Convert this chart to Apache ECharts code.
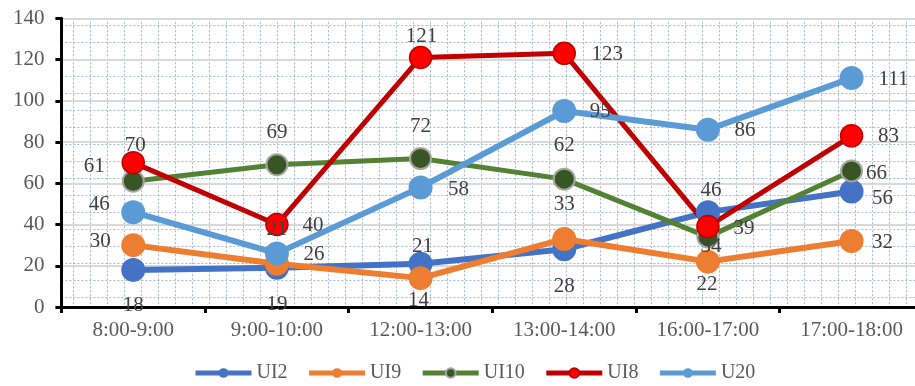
<!DOCTYPE html>
<html>
<head>
<meta charset="utf-8">
<script src="https://cdn.jsdelivr.net/npm/echarts@6/dist/echarts.min.js"></script>
<style>
  html, body { margin: 0; padding: 0; background: #fff; }
  #chart { width: 915px; height: 386px; }
</style>
</head>
<body>
<div id="chart"></div>
<script>
// categories and series values
const categories = ["8:00-9:00", "9:00-10:00", "12:00-13:00", "13:00-14:00", "16:00-17:00", "17:00-18:00"];
const ui2 = [18, 19, 21, 28, 46, 56];
const ui9 = [30, 21, 14, 33, 22, 32];
const ui10 = [61, 69, 72, 62, 34, 66];
const ui8 = [70, 40, 121, 123, 39, 83];
const u20 = [46, 26, 58, 95, 86, 111];
const yMin = 0, yMax = 140, yStep = 20;

// where each data label sits relative to its point (px)
const ui2Offsets = [[0, 36], [0, 37], [2, -17], [0, 37], [3, -22], [31, 7]];
const ui9Offsets = [[-33, -4], [0, -34], [-2, 22], [0, -34], [-1, 23], [31, 1]];
const ui10Offsets = [[-39, -15], [0, -32], [0, -32], [0, -34], [3, 10], [25, 3]];
const ui8Offsets = [[2, -17], [36, 1], [1, -21], [43, 1], [36, 2], [37, 1]];
const u20Offsets = [[-34, -8], [37, 1], [38, 2], [36, 0], [37, 1], [42, 1]];

const FONT = "'Liberation Serif', 'Times New Roman', serif";
// plot runs past the right edge of the picture
const PLOT_W = 862;

function makeSeries(name, values, offsets, lineColor, fill, border, borderW, size, lineW) {
  return {
    name: name,
    type: "line",
    xAxisIndex: 0,
    yAxisIndex: 0,
    data: values.map(function (v, i) {
      return { value: v, label: { offset: offsets[i] } };
    }),
    symbol: "circle",
    symbolSize: size,
    lineStyle: { color: lineColor, width: lineW },
    itemStyle: { color: fill, borderColor: border, borderWidth: borderW },
    label: {
      show: true,
      position: "inside",
      color: "#404040",
      fontFamily: FONT,
      fontSize: 21
    },
    emphasis: { disabled: true },
    animation: false
  };
}

const chart = echarts.init(document.getElementById("chart"));
chart.setOption({
  backgroundColor: "#fff",
  animation: false,
  grid: [
    { left: 61.4, width: PLOT_W, top: 18.3, bottom: 79, outerBoundsMode: "none", containLabel: false },
    // horizontal dotted grid
    { left: 61.4, width: PLOT_W, top: 25, bottom: 89, outerBoundsMode: "none", containLabel: false },
    // vertical dotted grid
    { left: 73.3, width: PLOT_W - 11.9, top: 18.3, bottom: 79, outerBoundsMode: "none", containLabel: false }
  ],
  legend: {
    left: 188,
    top: 358,
    itemWidth: 56,
    itemHeight: 12,
    itemGap: 19,
    lineStyle: { width: 5 },
    textStyle: { color: "#595959", fontFamily: FONT, fontSize: 20 },
    data: ["UI2", "UI9", "UI10", "UI8", "U20"]
  },
  xAxis: [
    {
      type: "category",
      gridIndex: 0,
      data: categories,
      z: 3,
      axisLine: { lineStyle: { color: "#000", width: 3 } },
      axisTick: { show: true, length: 6, lineStyle: { color: "#000", width: 3 } },
      axisLabel: { color: "#595959", fontFamily: FONT, fontSize: 21, margin: 13 },
      splitLine: { show: false }
    },
    { type: "value", gridIndex: 1, show: false, min: 0, max: 1 },
    {
      type: "value",
      gridIndex: 2,
      min: 0,
      max: 50,
      interval: 1,
      z: 0,
      axisLine: { show: false },
      axisTick: { show: false },
      axisLabel: { show: false },
      splitLine: { show: true, lineStyle: { color: "#a9b6d0", width: 1, type: [2, 2] } }
    }
  ],
  yAxis: [
    {
      type: "value",
      gridIndex: 0,
      min: yMin,
      max: yMax,
      interval: yStep,
      z: 3,
      axisLine: { show: true, lineStyle: { color: "#000", width: 3 } },
      axisTick: { show: true, length: 6, lineStyle: { color: "#000", width: 3 } },
      axisLabel: { color: "#595959", fontFamily: FONT, fontSize: 21, margin: 17 },
      splitLine: { show: true, lineStyle: { color: "#d9d9d9", width: 2 } }
    },
    {
      type: "value",
      gridIndex: 1,
      min: 0,
      max: 16,
      interval: 1,
      z: 0,
      axisLine: { show: false },
      axisTick: { show: false },
      axisLabel: { show: false },
      splitLine: { show: true, lineStyle: { color: "#a9b6d0", width: 1, type: [2, 2] } }
    },
    { type: "value", gridIndex: 2, show: false, min: 0, max: 1 }
  ],
  series: [
    makeSeries("UI2", ui2, ui2Offsets, "#4472C4", "#4472C4", "#4472C4", 0, 24, 6),
    makeSeries("UI9", ui9, ui9Offsets, "#ED7D31", "#ED7D31", "#ED7D31", 0, 24, 6),
    makeSeries("UI10", ui10, ui10Offsets, "#548235", "#375623", "#a5a5a5", 2, 21, 5),
    makeSeries("UI8", ui8, ui8Offsets, "#C00000", "#FF0000", "#C00000", 1.5, 22, 5),
    makeSeries("U20", u20, u20Offsets, "#5B9BD5", "#5B9BD5", "#5B9BD5", 0, 24, 6)
  ]
});
</script>
</body>
</html>
